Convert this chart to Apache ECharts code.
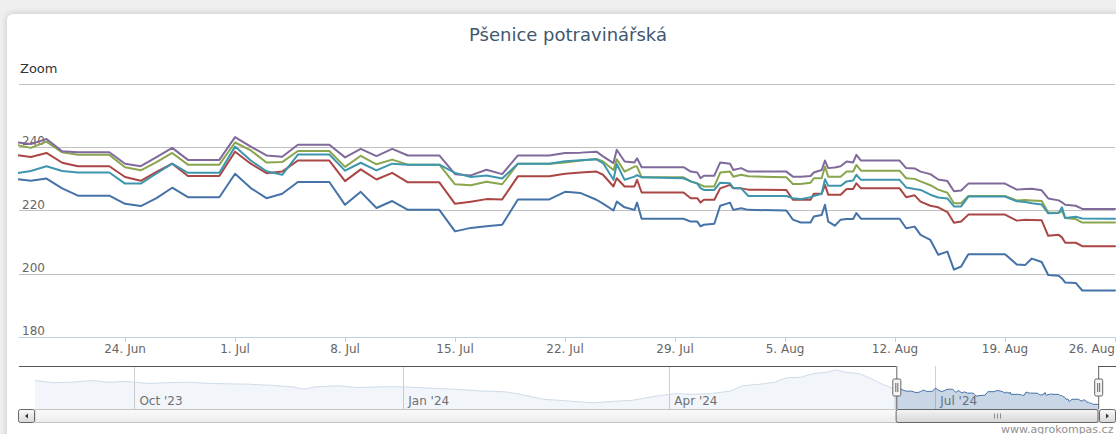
<!DOCTYPE html>
<html lang="cs">
<head>
<meta charset="UTF-8">
<title>Pšenice potravinářská</title>
<script src="https://cdn.jsdelivr.net/npm/echarts@6/dist/echarts.min.js"></script>
<style>
  html, body { margin: 0; padding: 0; background: #efefef; overflow: hidden; }
  .card { position: absolute; left: 7px; top: 14px; width: 1150px; height: 470px; background: #fff;
          border-radius: 6px; box-shadow: 0 0 7px rgba(0, 0, 0, 0.18); }
  #chart { position: absolute; left: 0; top: 0; width: 1116px; height: 434px; }
</style>
</head>
<body>
<div class="card"></div>
<div id="chart"></div>
<script>
  // historie modré řady (jen pro navigátor)
  const histDates = ['2023-08-28', '2023-09-03', '2023-09-09', '2023-09-17', '2023-09-22', '2023-09-28',
    '2023-10-06', '2023-10-12', '2023-10-20', '2023-10-28', '2023-11-09', '2023-11-17', '2023-11-24',
    '2023-11-28', '2023-12-02', '2023-12-10', '2023-12-16', '2023-12-24', '2024-01-01', '2024-01-10',
    '2024-01-19', '2024-01-28', '2024-02-05', '2024-02-10', '2024-02-18', '2024-02-24', '2024-03-06',
    '2024-03-14', '2024-03-19', '2024-03-28', '2024-04-03', '2024-04-09', '2024-04-15', '2024-04-22',
    '2024-04-26', '2024-05-02', '2024-05-07', '2024-05-11', '2024-05-16', '2024-05-20', '2024-05-25',
    '2024-05-28', '2024-05-31', '2024-06-05', '2024-06-08', '2024-06-13'];
  const histBlue = [249, 244, 245, 249, 245, 247, 242, 244, 245, 242, 240.5, 238, 234.5, 229, 234.5, 237,
    233, 234.5, 234.5, 231.5, 229, 225, 223, 217.5, 206, 203.5, 198, 202, 203.5, 214, 219, 217.5, 219,
    225, 237, 240.5, 245, 255, 256.5, 264.5, 268, 273.5, 268, 264.5, 256.5, 240];

  // zobrazené období
  const dates = [
    '2024-06-17', '2024-06-18', '2024-06-19', '2024-06-20', '2024-06-21', '2024-06-22', '2024-06-23',
    '2024-06-24', '2024-06-25', '2024-06-26', '2024-06-27', '2024-06-28', '2024-06-29', '2024-06-30',
    '2024-07-01', '2024-07-02', '2024-07-03', '2024-07-04', '2024-07-05', '2024-07-06', '2024-07-07',
    '2024-07-08', '2024-07-09', '2024-07-10', '2024-07-11', '2024-07-12', '2024-07-13', '2024-07-14',
    '2024-07-15', '2024-07-16', '2024-07-17', '2024-07-18', '2024-07-19', '2024-07-20', '2024-07-21',
    '2024-07-22', '2024-07-23', '2024-07-24',
    '2024-07-24 10:00', '2024-07-25 02:00', '2024-07-25 07:00', '2024-07-25 19:00', '2024-07-26 10:00',
    '2024-07-26 14:00', '2024-07-26 21:00', '2024-07-29 13:00', '2024-07-30 00:00', '2024-07-30 10:00',
    '2024-07-30 15:00', '2024-07-30 20:00', '2024-07-31 12:00', '2024-07-31 21:00', '2024-08-01 12:00',
    '2024-08-01 17:00', '2024-08-02 05:00', '2024-08-02 16:00',
    '2024-08-05 02:00', '2024-08-05 12:00', '2024-08-06 00:00', '2024-08-06 15:00', '2024-08-06 20:00',
    '2024-08-07 08:00', '2024-08-07 13:00', '2024-08-07 18:00', '2024-08-08 04:00', '2024-08-08 13:00',
    '2024-08-08 22:00', '2024-08-09 08:00', '2024-08-09 13:00', '2024-08-09 20:00',
    '2024-08-12 07:00', '2024-08-12 17:00', '2024-08-13 06:00', '2024-08-13 15:00', '2024-08-14 06:00',
    '2024-08-14 18:00', '2024-08-15 08:00', '2024-08-15 18:00', '2024-08-16 05:00', '2024-08-16 16:00',
    '2024-08-19 00:00', '2024-08-19 18:00', '2024-08-20 07:00', '2024-08-20 17:00', '2024-08-21 08:00',
    '2024-08-21 18:00', '2024-08-22 10:00', '2024-08-22 15:00', '2024-08-22 20:00', '2024-08-23 12:00',
    '2024-08-23 22:00', '2024-08-26 00:00'];

  const blue = [230.0, 229.4, 230.1, 227.0, 224.7, 224.7, 224.7,
    222.1, 221.4, 223.9, 227.2, 224.2, 224.2, 224.2,
    231.6, 227.1, 223.9, 225.3, 229.0, 229.0, 229.0,
    221.8, 225.9, 220.8, 223.0, 220.2, 220.2, 220.2,
    213.4, 214.5, 215.0, 215.5, 223.5, 223.5, 223.5,
    225.9, 225.5, 223.4,
    222.2, 220.0, 222.8, 221.0, 220.2, 222.5, 217.4, 217.4, 216.5, 216.5, 215.0, 215.5, 215.8, 221.5,
    222.5, 220.2, 220.7, 220.2,
    220.0, 217.1, 216.2, 216.2, 218.1, 218.6, 221.8, 216.5, 215.2, 217.1, 217.3, 217.3, 219.2, 217.4,
    217.4, 214.4, 214.9, 212.3, 210.7, 206.0, 207.0, 201.3, 202.3, 206.2,
    206.2, 202.9, 202.8, 204.8, 203.7, 199.6, 199.4, 198.5, 197.2, 197.1, 194.7, 194.7];

  const red = [237.6, 236.9, 238.2, 235.1, 234.0, 234.0, 234.0,
    230.6, 229.4, 232.2, 234.8, 230.9, 230.9, 230.9,
    238.6, 234.8, 231.8, 232.3, 235.8, 235.8, 235.8,
    229.3, 233.0, 229.8, 231.9, 228.9, 228.9, 228.9,
    222.1, 222.8, 223.6, 223.5, 230.8, 230.8, 230.8,
    231.6, 232.0, 232.3,
    231.3, 227.6, 230.2, 227.6, 227.6, 229.7, 225.7, 225.7, 223.9, 223.9, 222.5, 223.4, 223.4, 227.0,
    228.1, 227.0, 227.0, 226.6,
    226.5, 223.4, 223.4, 223.4, 225.3, 225.3, 228.1, 225.0, 225.0, 225.0, 226.8, 226.8, 228.6, 227.0,
    227.0, 224.2, 224.8, 222.8, 221.5, 221.0, 219.5, 216.1, 216.5, 218.7,
    218.7, 216.8, 217.1, 217.0, 216.9, 212.0, 212.3, 211.5, 209.8, 209.8, 208.7, 208.7];

  const green = [240.8, 239.8, 241.8, 238.4, 237.6, 237.6, 237.6,
    233.7, 232.7, 235.3, 238.2, 234.5, 234.5, 234.5,
    241.5, 239.0, 235.2, 235.3, 238.8, 238.8, 238.8,
    233.8, 237.3, 234.6, 236.1, 234.5, 234.5, 234.5,
    228.3, 228.0, 229.1, 228.3, 234.8, 234.8, 234.8,
    235.2, 235.8, 236.3,
    235.5, 232.8, 236.2, 232.3, 233.9, 233.9, 230.5, 230.5, 229.2, 228.6, 228.1, 227.6, 227.6, 232.0,
    232.3, 230.7, 231.3, 230.8,
    230.5, 228.4, 228.4, 228.8, 230.2, 230.2, 233.9, 230.7, 230.7, 230.7, 232.3, 232.3, 234.4, 232.6,
    232.6, 230.2, 230.0, 229.2, 228.0, 226.6, 225.6, 222.3, 222.3, 224.6,
    224.6, 223.2, 223.3, 223.2, 223.0, 219.4, 219.3, 219.8, 217.6, 217.3, 216.2, 216.2];

  const purple = [241.6, 241.0, 242.6, 238.7, 238.4, 238.4, 238.4,
    234.8, 234.0, 236.9, 239.8, 236.0, 236.0, 236.0,
    243.2, 240.2, 237.4, 237.0, 240.8, 240.8, 240.8,
    236.8, 239.5, 237.2, 239.5, 237.4, 237.4, 237.4,
    231.5, 231.1, 232.9, 231.5, 237.4, 237.4, 237.4,
    238.2, 238.3, 238.6,
    237.1, 235.0, 239.2, 235.5, 235.2, 236.5, 233.7, 233.7, 232.3, 232.0, 230.2, 231.0, 231.0, 235.2,
    234.8, 232.8, 233.4, 232.3,
    232.3, 230.7, 230.7, 230.9, 232.0, 232.8, 235.8, 233.4, 233.6, 234.0, 235.5, 235.2, 237.6, 235.8,
    235.8, 233.4, 233.3, 232.3, 231.5, 229.8, 229.3, 226.1, 226.3, 228.5,
    228.5, 226.6, 226.8, 226.9, 226.4, 223.8, 223.2, 222.6, 221.8, 221.5, 220.5, 220.5];

  const teal = [231.7, 232.5, 234.0, 232.5, 232.0, 232.0, 232.0,
    228.5, 228.5, 231.7, 234.8, 231.9, 231.9, 231.9,
    240.2, 235.8, 232.4, 231.3, 237.7, 237.7, 237.7,
    232.6, 235.1, 232.7, 234.8, 234.5, 234.5, 234.5,
    231.9, 230.6, 231.1, 230.1, 234.8, 234.8, 234.8,
    235.6, 235.9, 236.2,
    235.0, 229.7, 234.7, 229.7, 230.7, 231.2, 230.5, 230.2, 229.2, 228.5, 227.1, 226.5, 226.5, 228.8,
    228.6, 227.1, 227.0, 224.6,
    224.6, 223.9, 223.6, 224.2, 224.6, 225.3, 229.9, 227.8, 227.8, 227.8, 229.2, 229.5, 231.3, 229.7,
    229.7, 227.3, 226.8, 226.5, 225.0, 224.1, 223.8, 221.3, 221.3, 224.4,
    224.4, 222.9, 222.7, 222.3, 221.9, 219.1, 219.2, 221.0, 217.6, 218.0, 217.5, 217.4];

  const weekTicks = ['2024-06-24', '2024-07-01', '2024-07-08', '2024-07-15', '2024-07-22', '2024-07-29',
    '2024-08-05', '2024-08-12', '2024-08-19', '2024-08-26'];
  const navTicks = ['2023-10-01', '2024-01-01', '2024-04-01', '2024-07-01'];
  const monthNames = ['Jan', 'Feb', 'Mar', 'Apr', 'May', 'Jun', 'Jul', 'Aug', 'Sep', 'Oct', 'Nov', 'Dec'];
  const viewStart = '2024-06-17 06:00';
  const viewEnd = '2024-08-26 00:00';

  function ts(s) {
    const [d, t] = s.split(' ');
    const [y, m, dd] = d.split('-').map(Number);
    const [h, mi] = (t || '0:0').split(':').map(Number);
    return new Date(y, m - 1, dd, h, mi).getTime();
  }
  const pairs = (ds, vs) => ds.map((d, i) => [ts(d), vs[i]]);

  const blueAll = pairs(histDates, histBlue).concat(pairs(dates, blue));
  const navHist = pairs(histDates, histBlue).concat(pairs(dates.slice(0, 1), blue));
  const navSel = pairs(dates, blue);
  const navMin = blueAll[0][0];
  const navMax = blueAll[blueAll.length - 1][0];

  // rozvržení
  const FONT = 'DejaVu Sans';
  const navTop = 366, navH = 43, navLeft = 35, navRight = 17;
  const barTop = navTop + navH, barH = 14;

  const HANDLE = 'path://M4.5,0V13M4.5,30V43M2,13H7Q8.5,13 8.5,14.5V28.5Q8.5,30 7,30H2Q0.5,30 0.5,28.5V14.5Q0.5,13 2,13ZM3.5,17V26M5.5,17V26';

  const lineSeries = (name, data, color) => ({
    name, type: 'line', data, xAxisIndex: 0, yAxisIndex: 0,
    showSymbol: false, symbol: 'none', clip: true,
    lineStyle: { width: 2, color, join: 'round', cap: 'round' },
    itemStyle: { color }, emphasis: { disabled: true }
  });

  const chart = echarts.init(document.getElementById('chart'), null, { renderer: 'svg' });
  const option = {
    animation: false,
    textStyle: { fontFamily: FONT },
    title: {
      text: 'Pšenice potravinářská', left: 563, top: 20, textAlign: 'center',
      textStyle: { color: '#3E576F', fontSize: 18, fontWeight: 'normal', fontFamily: FONT }
    },
    grid: [
      { left: 19, right: 1, top: 84, height: 253, outerBoundsMode: 'none', containLabel: false },
      { left: navLeft, right: navRight, top: navTop, height: navH, outerBoundsMode: 'none', containLabel: false }
    ],
    xAxis: [
      {
        type: 'value', gridIndex: 0, min: 'dataMin', max: 'dataMax',
        axisLine: { lineStyle: { color: '#C0D0E0', width: 1 } },
        axisTick: { show: true, length: 5, customValues: weekTicks.map(ts), lineStyle: { color: '#C0D0E0' } },
        splitLine: { show: false },
        axisLabel: {
          customValues: weekTicks.map(ts), color: '#666', fontSize: 12, margin: 6, hideOverlap: false,
          alignMaxLabel: 'right',
          formatter: v => { const d = new Date(v); return d.getDate() + '. ' + monthNames[d.getMonth()]; }
        }
      },
      {
        type: 'value', gridIndex: 1, min: navMin, max: navMax,
        axisLine: { show: false },
        axisTick: { show: false },
        splitLine: { show: false },
        axisLabel: {
          customValues: navTicks.map(ts), inside: true, color: '#707070', fontSize: 12, margin: 2,
          align: 'left', padding: [0, 0, 0, 5],
          formatter: v => { const d = new Date(v); return monthNames[d.getMonth()] + " '" + String(d.getFullYear()).slice(2); }
        }
      }
    ],
    yAxis: [
      {
        type: 'value', gridIndex: 0, min: 180, max: 260, interval: 20,
        axisLine: { show: false }, axisTick: { show: false },
        splitLine: { lineStyle: { color: '#C0C0C0', width: 1 } },
        axisLabel: { inside: true, showMaxLabel: false, color: '#666', fontSize: 12, margin: 3, verticalAlign: 'bottom' }
      },
      { type: 'value', gridIndex: 1, min: 184, max: 282, show: false, splitLine: { show: false } }
    ],
    dataZoom: [{
      type: 'slider', xAxisIndex: 0, filterMode: 'none',
      startValue: ts(viewStart), endValue: ts(viewEnd),
      left: navLeft, right: navRight, top: navTop, height: navH,
      showDataShadow: false, showDetail: false, brushSelect: false,
      backgroundColor: 'rgba(0,0,0,0)', borderColor: 'rgba(0,0,0,0)', fillerColor: 'rgba(0,0,0,0)',
      handleIcon: HANDLE, handleSize: '100%',
      handleStyle: { color: '#f4f4f4', borderColor: '#666', borderWidth: 1 },
      moveHandleSize: 0, z: 6
    }],
    series: [
      lineSeries('Série 1', blueAll, '#4572A7'),
      lineSeries('Série 2', pairs(dates, red), '#AA4643'),
      lineSeries('Série 3', pairs(dates, green), '#89A54E'),
      lineSeries('Série 4', pairs(dates, purple), '#80699B'),
      lineSeries('Série 5', pairs(dates, teal), '#3D96AE'),
      {
        type: 'line', data: navHist, xAxisIndex: 1, yAxisIndex: 1, showSymbol: false, symbol: 'none',
        lineStyle: { width: 1, color: '#cfdbe8' }, areaStyle: { color: 'rgba(69,114,167,0.1)', origin: 'start' },
        emphasis: { disabled: true }, silent: true
      },
      {
        type: 'line', data: navSel, xAxisIndex: 1, yAxisIndex: 1, showSymbol: false, symbol: 'none',
        lineStyle: { width: 1, color: '#4572A7' }, areaStyle: { color: 'rgba(69,114,167,0.42)', origin: 'start' },
        emphasis: { disabled: true }, silent: true
      }
    ]
  };
  chart.setOption(option);

  // obrys navigátoru, mřížka navigátoru a posuvník
  const px = (axis, v) => chart.convertToPixel({ xAxisIndex: axis }, v);
  const plotL = px(0, ts(viewStart)), plotR = px(0, ts(viewEnd));
  const navL = px(1, navMin), navR = px(1, navMax);
  const selL = px(1, ts(viewStart)) + 1, selR = px(1, ts(viewEnd)) - 1;
  const grad = (a, b) => new echarts.graphic.LinearGradient(0, 0, 0, 1, [{ offset: 0, color: a }, { offset: 1, color: b }]);
  const y0 = navTop + 0.5, by = barTop + 0.5, bh = barH - 1, mid = barTop + barH / 2;
  const thumbMid = Math.round((selL + selR) / 2);

  const navGrid = navTicks.map(t => {
    const x = Math.round(px(1, ts(t))) + 0.5;
    return { type: 'line', z: 1, shape: { x1: x, y1: navTop, x2: x, y2: barTop }, style: { stroke: '#d0d0d0', lineWidth: 1 } };
  });
  const grip = [-3, 0, 3].map(dx => ({
    type: 'line', z: 11, shape: { x1: thumbMid + dx + 0.5, y1: mid - 2.5, x2: thumbMid + dx + 0.5, y2: mid + 2.5 },
    style: { stroke: '#888', lineWidth: 1 }
  }));

  chart.setOption({
    graphic: navGrid.concat(grip, [
      { type: 'text', z: 10, style: { x: 20, y: 68, text: 'Zoom', font: '13px "DejaVu Sans"', fill: '#333', textVerticalAlign: 'middle' } },
      { type: 'text', z: 10, style: { x: 1001, y: 429, text: 'www.agrokompas.cz', font: '11px "DejaVu Sans"', fill: '#909090', textVerticalAlign: 'middle' } },
      { type: 'line', z: 10, shape: { x1: plotL, y1: y0, x2: selL, y2: y0 }, style: { stroke: '#555', lineWidth: 1 } },
      { type: 'line', z: 10, shape: { x1: selR, y1: y0, x2: plotR + 1, y2: y0 }, style: { stroke: '#555', lineWidth: 1 } },
      { type: 'rect', z: 9, shape: { x: navL, y: by, width: navR - navL, height: bh }, style: { fill: grad('#fbfbfb', '#ececec'), stroke: '#c4c4c4', lineWidth: 1 } },
      { type: 'rect', z: 10, shape: { x: selL, y: by, width: selR - selL, height: bh, r: 2 }, style: { fill: grad('#f4f4f4', '#d6d6d6'), stroke: '#666', lineWidth: 1 } },
      { type: 'rect', z: 10, shape: { x: navL - 17 + 0.5, y: by, width: 16, height: bh, r: 2 }, style: { fill: grad('#fafafa', '#d8d8d8'), stroke: '#666', lineWidth: 1 } },
      { type: 'polygon', z: 11, shape: { points: [[navL - 10, mid], [navL - 7, mid - 2.5], [navL - 7, mid + 2.5]] }, style: { fill: '#333' } },
      { type: 'rect', z: 10, shape: { x: navR + 0.5, y: by, width: 16, height: bh, r: 2 }, style: { fill: grad('#fafafa', '#d8d8d8'), stroke: '#666', lineWidth: 1 } },
      { type: 'polygon', z: 11, shape: { points: [[navR + 10, mid], [navR + 7, mid - 2.5], [navR + 7, mid + 2.5]] }, style: { fill: '#333' } }
    ])
  });
</script>
</body>
</html>
